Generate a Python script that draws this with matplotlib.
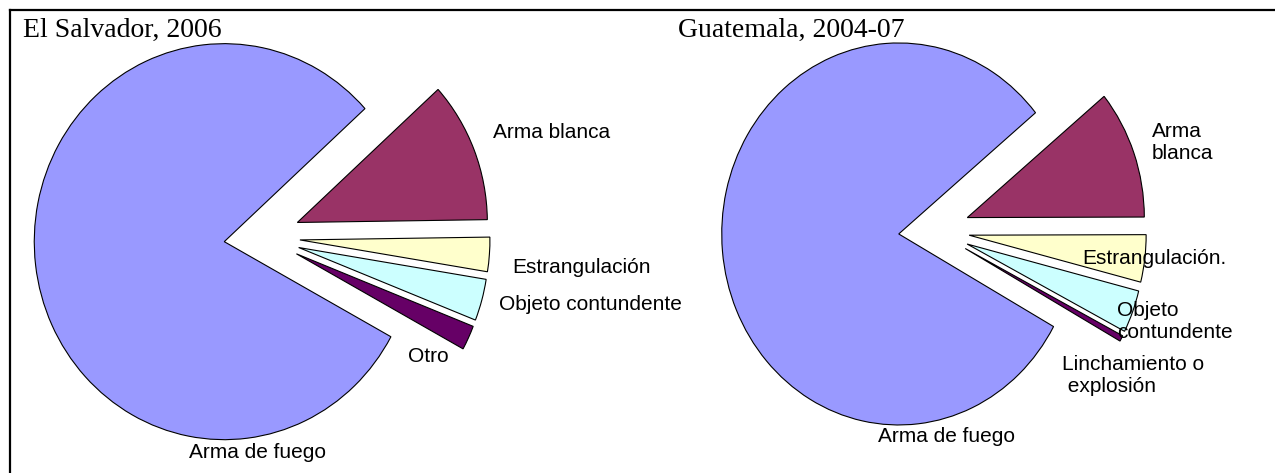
import matplotlib
matplotlib.use("Agg")
import matplotlib.pyplot as plt
from matplotlib.lines import Line2D

# donnees (parts en %)
categorias_sv = ["Arma de fuego", "Arma blanca", "Estrangulación",
                 "Objeto contundente", "Otro"]
valores_sv = [80.3, 11.5, 2.8, 3.4, 2.0]

categorias_gt = ["Arma de fuego", "Arma\nblanca", "Estrangulación.",
                 "Objeto\ncontundente", "Linchamiento o\n explosión"]
valores_gt = [81.0, 10.9, 4.0, 3.6, 0.5]

titulos = ["El Salvador, 2006", "Guatemala, 2004-07"]
colores = ["#9999FF", "#993366", "#FFFFCC", "#CCFFFF", "#660066"]

W, H = 1275, 473
fig = plt.figure(figsize=(W / 100, H / 100), dpi=100)


def axe_pixel(cx, cy, rx, ry):
    """axe sur toute la figure, unite = rayon du camembert centre en (cx, cy)"""
    ax = fig.add_axes([0, 0, 1, 1])
    ax.set_axis_off()
    return ax, ((-cx / rx, (W - cx) / rx), (-(H - cy) / ry, cy / ry))


def camembert(ax, lims, valeurs, depart, etiquettes, positions, alignements):
    ax.pie(valeurs, colors=colores, explode=[0.2] * len(valeurs),
           startangle=depart, counterclock=False, radius=1,
           wedgeprops=dict(edgecolor="black", linewidth=0.8))
    ax.set_aspect("auto")
    ax.set_xlim(*lims[0])
    ax.set_ylim(*lims[1])
    for txt, (x, y), ha in zip(etiquettes, positions, alignements):
        ax.text(x, y, txt, ha=ha, va="center", fontsize=15,
                family="Liberation Sans", linespacing=1.2)


# le graphique d'origine est un peu etire en hauteur
ax1, lim1 = axe_pixel(262, 237, 190, 198)
camembert(ax1, lim1, valores_sv, -28.7, categorias_sv,
          [(-0.026, -1.088), (1.526, 0.53), (1.684, -0.152),
           (1.726, -0.343), (0.874, -0.606)],
          ["center"] * 5)

ax2, lim2 = axe_pixel(934, 230.5, 177, 191)
camembert(ax2, lim2, valores_gt, -29, categorias_gt,
          [(0.073, -1.076), (1.232, 0.46), (1.243, -0.149),
           (1.034, -0.474), (0.723, -0.76)],
          ["center", "left", "center", "left", "left"])

# titres
fig.text(23 / W, 1 - 37 / H, titulos[0], family="Liberation Serif",
         fontsize=20, ha="left", va="baseline")
fig.text(678 / W, 1 - 37 / H, titulos[1], family="Liberation Serif",
         fontsize=20, ha="left", va="baseline")

# cadre (haut et gauche)
fig.add_artist(Line2D([10 / W, 1], [1 - 10 / H, 1 - 10 / H], color="black", lw=1.6))
fig.add_artist(Line2D([10 / W, 10 / W], [0, 1 - 10 / H], color="black", lw=1.6))

fig.savefig("out.png", dpi=100)
